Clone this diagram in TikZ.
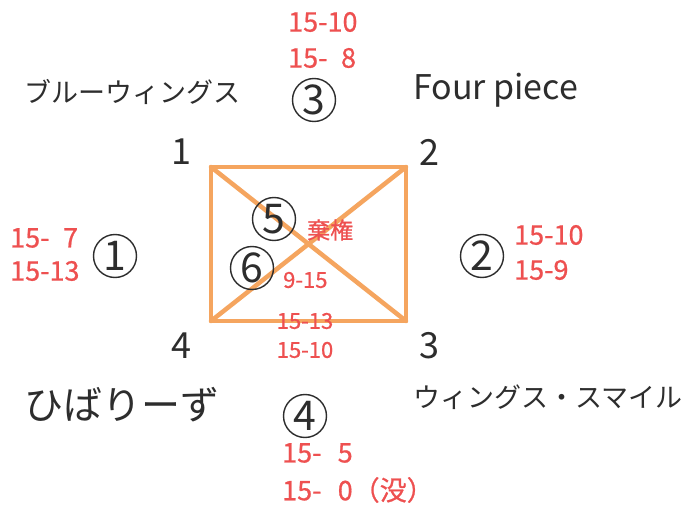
\documentclass[tikz,border=0pt]{standalone}
\usepackage{fontspec}
\setmainfont{Noto Sans CJK JP}
\newfontfamily\redfont[FakeBold=0.7]{Noto Sans CJK JP}
\definecolor{boxor}{RGB}{245,165,95}
\definecolor{scred}{RGB}{238,80,80}
\definecolor{ink}{RGB}{45,45,45}
\begin{document}
\begin{tikzpicture}[x=1pt,y=-1pt,
  corner/.style={text=ink,font=\fontsize{36}{36}\selectfont,inner sep=0pt},
  team/.style={text=ink,font=\fontsize{27}{27}\selectfont,inner sep=0pt},
  circnum/.style={circle,draw=ink,line width=1.4pt,minimum size=43pt,inner sep=0pt,text=ink,font=\fontsize{41}{41}\selectfont},
  score/.style={text=scred,font=\redfont\fontsize{27}{27}\selectfont,inner sep=0pt},
  smallscore/.style={text=scred,font=\redfont\fontsize{22}{22}\selectfont,inner sep=0pt},
  edge/.style={draw=boxor,line width=4.5pt,line cap=round,line join=round}]
\useasboundingbox (0,0) rectangle (683,505);
\fill[white] (0,0) rectangle (683,505);
% square corners
\coordinate (c1) at (211,167);
\coordinate (c2) at (406,167);
\coordinate (c3) at (406,321);
\coordinate (c4) at (211,321);
\draw[edge] (c1) -- (c2) -- (c3) -- (c4) -- cycle;
\draw[edge] (c1) -- (c3);
\draw[edge] (c2) -- (c4);
% corner numbers
\node[corner] (n1) at (181,152) {1};
\node[corner] (n2) at (429,152) {2};
\node[corner] (n3) at (429,346) {3};
\node[corner] (n4) at (181,346) {4};
% team names
\node[team,anchor=west] (t1) at (24,92) {ブルーウィングス};
\node[team,anchor=west,font=\fontsize{34}{34}\selectfont] (t2) at (413,90) {Four piece};
\node[team,anchor=west] (t3) at (413,397) {ウィングス・スマイル};
\node[team,anchor=west,font=\fontsize{39}{39}\selectfont] (t4) at (24,405) {ひばりーず};
% circled match numbers
\node[circnum] (m1) at (115,256) {1};
\node[circnum] (m2) at (482,256) {2};
\node[circnum] (m3) at (314,100) {3};
\node[circnum] (m4) at (305,416) {4};
\node[circnum] (m5) at (274,219) {5};
\node[circnum] (m6) at (252,268) {6};
% scores
\node[score,anchor=west] (s3a) at (288,22) {15-10};
\node[score,anchor=west] (s3b) at (288,58) {15-\hspace{0.5em}8};
\node[score,anchor=west] (s1a) at (10,238) {15-\hspace{0.5em}7};
\node[score,anchor=west] (s1b) at (10,271) {15-13};
\node[score,anchor=west] (s2a) at (514,235) {15-10};
\node[score,anchor=west] (s2b) at (514,270) {15-9};
\node[score,anchor=west] (s4a) at (282,453) {15-\hspace{0.6em}5};
\node[score,anchor=west] (s4b) at (282,490) {15-\hspace{0.6em}0（没）};
\node[smallscore,anchor=west,font=\redfont\fontsize{23}{23}\selectfont] (s5) at (307,230) {棄権};
\node[smallscore,anchor=west] (s6) at (283,280) {9-15};
\node[smallscore] (s6b) at (305,321) {15-13};
\node[smallscore] (s6c) at (305,350) {15-10};
\end{tikzpicture}
\end{document}
